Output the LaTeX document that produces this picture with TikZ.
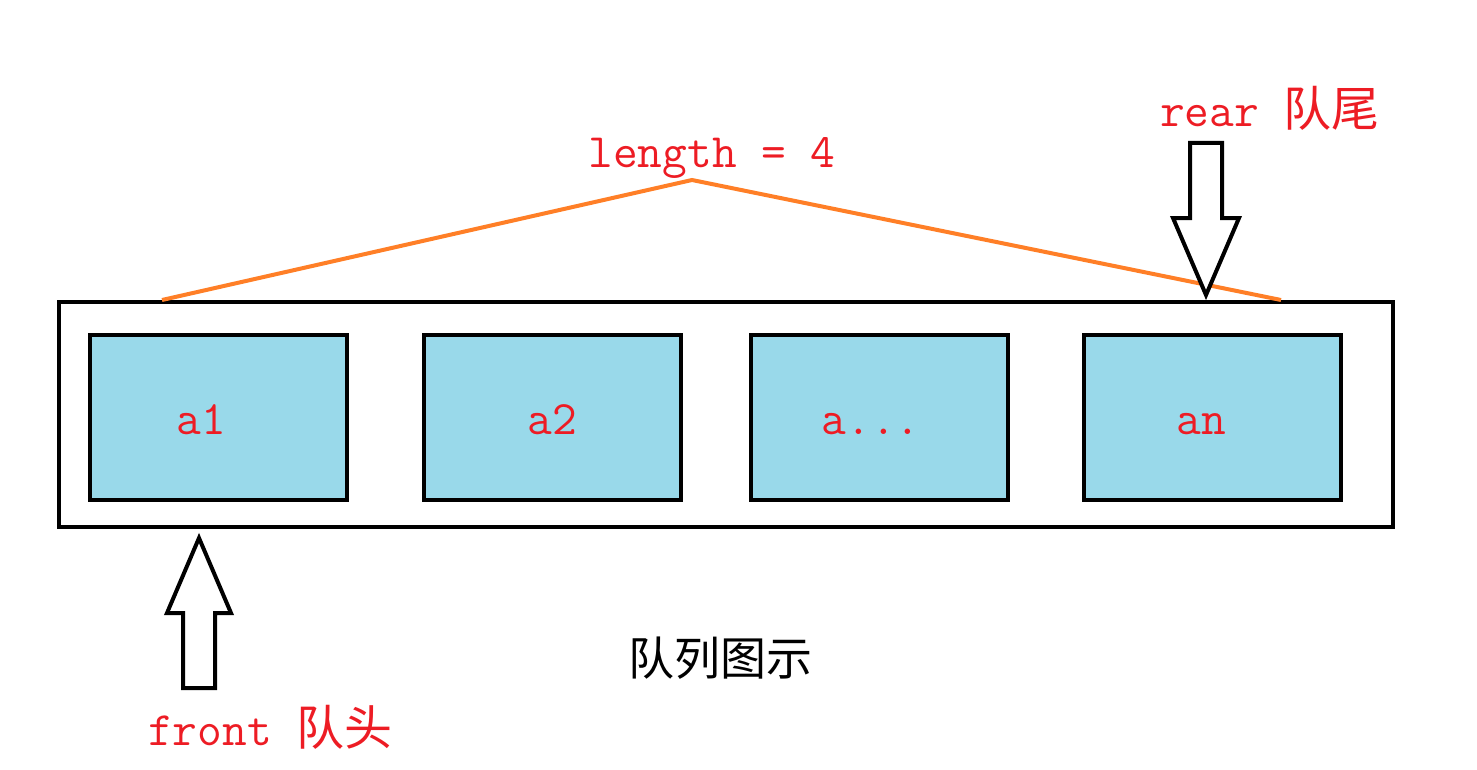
\documentclass[tikz,border=0pt]{standalone}
\usepackage{fontspec}
\newfontfamily\cjk{Noto Sans CJK SC}
\definecolor{qred}{RGB}{237,28,36}
\definecolor{qorange}{RGB}{255,127,39}
\definecolor{qblue}{RGB}{153,217,234}
\begin{document}
\begin{tikzpicture}[x=1pt,y=-1pt,
  cell/.style={draw=black,line width=4pt,fill=qblue,minimum width=257pt,minimum height=165pt,inner sep=0pt},
  celltext/.style={text=qred,inner sep=0pt,anchor=base,font=\fontsize{48}{52}\selectfont\ttfamily},
  outer/.style={draw=black,line width=4pt,minimum width=1334pt,minimum height=225pt,inner sep=0pt},
  lab/.style={text=qred,inner sep=0pt,font=\fontsize{48}{52}\selectfont},
  blockarrow/.style={draw=black,line width=4pt,fill=white,line join=miter},
  lenline/.style={draw=qorange,line width=4pt}]
\useasboundingbox (0,0) rectangle (1477,770);
\node[outer] (queue) at (726,414.5) {};
\node[cell] (a1) at (218.5,417.5) {};
\node[cell] (a2) at (552,417.5) {};
\node[cell] (a3) at (879,417.5) {};
\node[cell] (an) at (1212,417.5) {};
\node[celltext] (t1) at (201,434) {a1};
\node[celltext] (t2) at (552,434) {a2};
\node[celltext] (t3) at (871,434) {a...};
\node[celltext] (tn) at (1201,434) {an};
\node[lab,anchor=base] (len) at (712,168) {\ttfamily length = 4};
\node[lab,anchor=base west] (rear) at (1160,127) {\ttfamily rear \cjk 队尾};
\node[lab,anchor=base west] (front) at (148,745) {\ttfamily front \cjk 队头};
\node[inner sep=0pt,font=\fontsize{46}{50}\selectfont\cjk] (title) at (720,658) {队列图示};
\coordinate (lstart) at (162,300);
\coordinate (apex) at (692,180);
\coordinate (lend) at (1281,300);
\draw[lenline] (lstart) -- (apex) -- (lend);
% rear arrow (down)
\draw[blockarrow] (1190,143) -- (1222,143) -- (1222,218) -- (1239,218) -- (1206,295) -- (1173,218) -- (1190,218) -- cycle;
% front arrow (up)
\draw[blockarrow] (183,688) -- (215,688) -- (215,613) -- (231,613) -- (199,538) -- (167,613) -- (183,613) -- cycle;
\end{tikzpicture}
\end{document}
